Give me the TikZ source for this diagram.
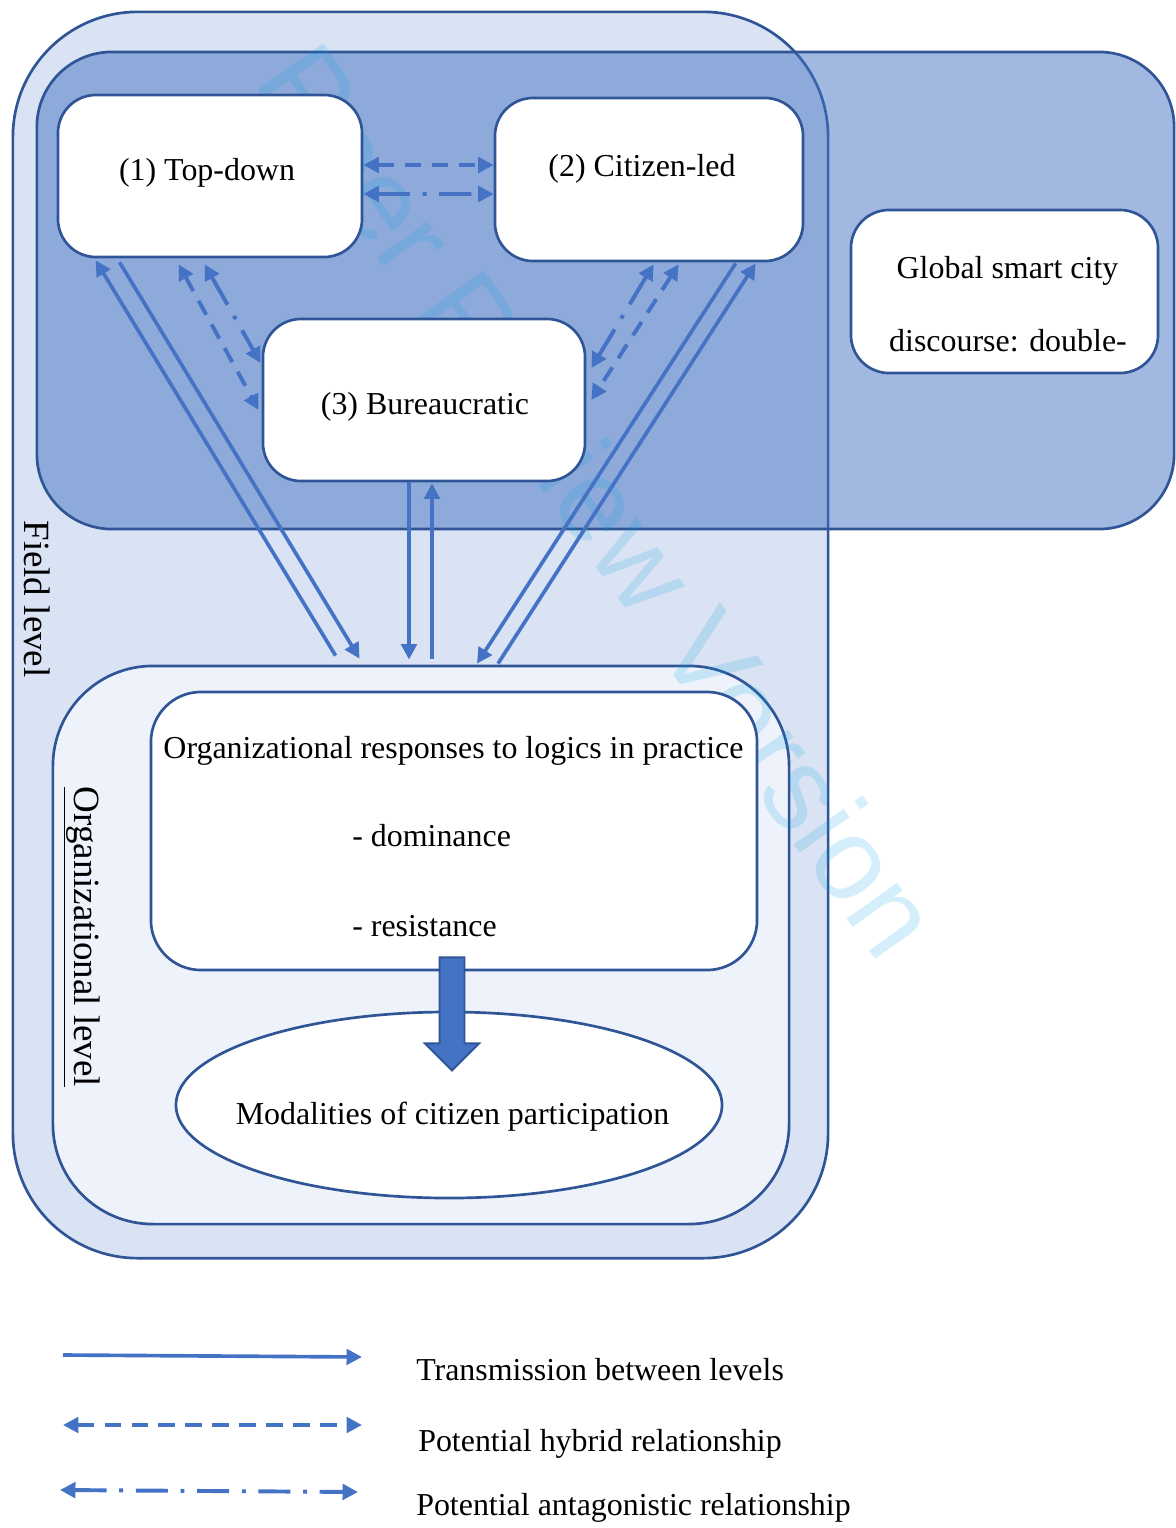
\documentclass[tikz,border=0pt]{standalone}
\usepackage{fontspec}
\setmainfont{Liberation Serif}
\newfontfamily\wmfont{Liberation Sans}
\usepackage{tikz}
\usetikzlibrary{arrows.meta}
\usetikzlibrary{calc}
\usetikzlibrary{shapes.geometric,shapes.arrows}
\definecolor{ssblue}{HTML}{4472C4}
\definecolor{ssedge}{HTML}{2F5597}
\definecolor{fieldbg}{HTML}{DAE3F3}
\definecolor{orgbg}{HTML}{EEF2FA}
\definecolor{wmcyan}{HTML}{00A0E6}
\tikzset{
    ssTip/.tip={Triangle[length=11pt,width=11pt]},
    box/.style={draw=ssedge,line width=1.9pt,fill=white,rounded corners=0.95cm,inner sep=0pt,minimum width=7.6cm,minimum height=4.05cm},
    txt/.style={font=\fontsize{22.7}{27}\selectfont,inner sep=0pt,anchor=base},
    side/.style={font=\fontsize{26.3}{30}\selectfont,inner sep=0pt,rotate=-90},
    trans/.style={draw=ssblue,line width=2.6pt,-ssTip},
    hybrid/.style={draw=ssblue,line width=2.8pt,ssTip-ssTip,dash pattern=on 11.4pt off 7.8pt},
    antag/.style={draw=ssblue,line width=2.8pt,ssTip-ssTip,dash pattern=on 22.8pt off 9pt on 2.8pt off 9pt}
}

\begin{document}
\begin{tikzpicture}[x=0.025cm,y=-0.025cm]
    \useasboundingbox (0,0) rectangle (1176,1528);

    % levels
    \node[draw=ssedge,line width=1.9pt,fill=fieldbg,rounded corners=3.125cm,inner sep=0pt,minimum width=20.375cm,minimum height=31.15cm] (field) at (420.5,635) {};
    \node[draw=ssedge,line width=1.9pt,fill=ssblue,fill opacity=0.5,rounded corners=1.875cm,inner sep=0pt,minimum width=28.425cm,minimum height=11.925cm] (global) at (605.5,290.5) {};
    \node[draw=ssedge,line width=1.9pt,fill=orgbg,rounded corners=2.5cm,inner sep=0pt,minimum width=18.4cm,minimum height=13.95cm] (org) at (421,945) {};

    \node[font=\wmfont\fontsize{83}{83}\selectfont,text=wmcyan,text opacity=0.17,inner sep=0pt,rotate=-54.6] (wmark) at (600,500) {Peer Review Version};

    % logics
    \node[box] (td) at (210,176) {};
    \node[box,minimum width=7.7cm,minimum height=4.075cm] (cl) at (649,179.5) {};
    \node[box,minimum width=8.05cm] (bu) at (424,400) {};
    \node[box,minimum width=7.675cm,minimum height=4.075cm] (gl) at (1004.5,291.5) {};
    \node[txt] (tdtext) at (207,180) {(1) Top-down};
    \node[txt] (cltext) at (642,176) {(2) Citizen-led};
    \node[txt] (butext) at (425,414) {(3) Bureaucratic};
    \node[txt] (gltext1) at (1007.5,278) {Global smart city};
    \node[txt] (gltext2) at (1008,351) {discourse: double-};

    % organizational responses
    \node[box,rounded corners=1.25cm,minimum width=15.15cm,minimum height=6.95cm] (orr) at (454,831) {};
    \node[txt] (orrtitle) at (453.5,758) {Organizational responses to logics in practice};
    \node[txt,anchor=base west] (dom) at (352,846) {- dominance};
    \node[txt,anchor=base west] (res) at (352,936) {- resistance};
    \node[draw=ssedge,line width=1.9pt,fill=white,ellipse,inner sep=0pt,minimum width=13.65cm,minimum height=4.65cm] (mod) at (449,1105) {};
    \node[txt] (modtext) at (452.5,1124) {Modalities of citizen participation};
    \node[draw=ssedge,line width=1.4pt,fill=ssblue,single arrow,single arrow head extend=0.3625cm,inner sep=0.2875cm,minimum height=2.825cm,rotate=-90,anchor=tail] (flow) at ($(orr.south)+(-2,-15)$) {};

    % transmission between levels
    \draw[trans] ($(org.north west)+(284,-9)$) -- ($(td.south west)+(39,2)$);
    \draw[trans] ($(td.south west)+(63,4)$) -- ($(org.north west)+(308,-6)$);
    \draw[trans] ($(bu.south)+(-15,0)$) -- ($(org.north)+(-12,-5)$);
    \draw[trans] ($(org.north)+(11,-6)$) -- ($(bu.south)+(8,1)$);
    \draw[trans] ($(cl.south west)+(242,1)$) -- ($(org.north)+(56,-1)$);
    \draw[trans] ($(org.north)+(77,-1)$) -- ($(cl.south west)+(262,1)$);

    % hybrid and antagonistic
    \draw[hybrid] ($(td.east)+(0,-11)$) -- ($(cl.west)+(0,-14.5)$);
    \draw[antag] ($(td.east)+(0,18)$) -- ($(cl.west)+(0,14.5)$);
    \draw[hybrid] ($(td.south west)+(122,6)$) -- ($(bu.west)+(-3,10)$);
    \draw[antag] ($(td.south west)+(148,6)$) -- ($(bu.west)+(-1,-37)$);
    \draw[hybrid] ($(cl.south west)+(185,2)$) -- ($(bu.east)+(5,0)$);
    \draw[antag] ($(cl.south west)+(160,2)$) -- ($(bu.east)+(5,-32)$);

    \node[side] (fieldlabel) at (37,599) {Field level};
    \node[side] (orglabel) at (82,937) {\underline{Organizational level}};

    % legend
    \coordinate (l1a) at (63,1355);
    \coordinate (l1b) at (362,1357);
    \coordinate (l2a) at (63,1425);
    \coordinate (l2b) at (362,1425);
    \coordinate (l3a) at (60,1490);
    \coordinate (l3b) at (358,1492);
    \draw[trans] (l1a) -- (l1b);
    \draw[hybrid] (l2a) -- (l2b);
    \draw[antag] (l3a) -- (l3b);
    \node[txt,anchor=base west] (leg1) at (416,1380) {Transmission between levels};
    \node[txt,anchor=base west] (leg2) at (418,1451) {Potential hybrid relationship};
    \node[txt,anchor=base west] (leg3) at (416,1515) {Potential antagonistic relationship};
\end{tikzpicture}
\end{document}
